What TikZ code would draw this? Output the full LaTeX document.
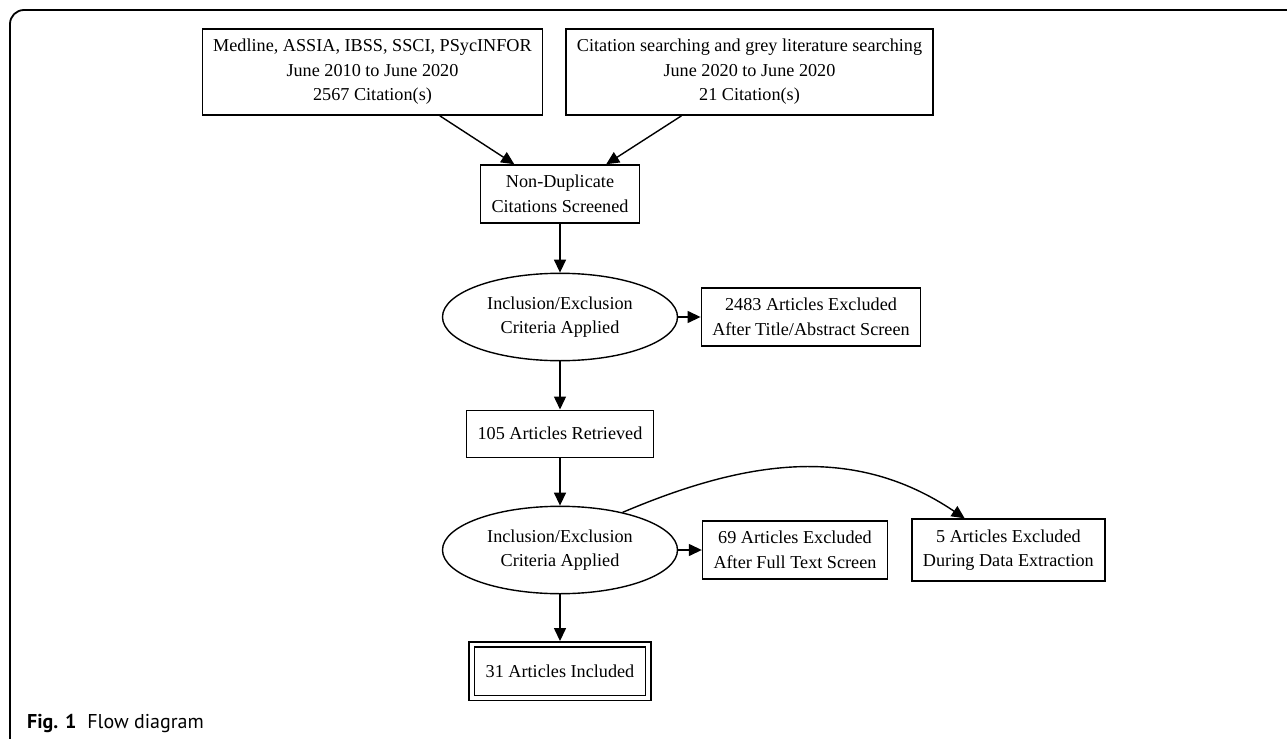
\documentclass[tikz,border=0pt]{standalone}
\usepackage{fontspec}
\setmainfont{Liberation Serif}
\setsansfont{PT Sans}
\usetikzlibrary{shapes.geometric,arrows.meta}

\begin{document}
\begin{tikzpicture}[x=.5pt,y=-.5pt,
        every node/.style={font=\fontsize{9.1}{12.25}\selectfont, align=center},
        box/.style={draw, line width=.7pt, inner xsep=5.5pt, inner ysep=5.2pt, minimum height=23.5pt},
        crit/.style={draw, ellipse, line width=.7pt, minimum width=117.5pt, minimum height=43.7pt, inner sep=0pt},
        final/.style={box, double, double distance=1.9pt, inner xsep=7pt, minimum height=26.75pt, outer sep=1.7pt},
        arr/.style={-{Triangle[length=6.5pt,width=6pt]}, line width=.7pt}]
        \useasboundingbox (0,0) rectangle (1287,739);
        \draw[line width=.9pt, rounded corners=7pt] (1287,10) -- (10,10) -- (10,739);
        % sources
        \node[box] (src1) at (372.5,72) {Medline, ASSIA, IBSS, SSCI, PSycINFOR\\June 2010 to June 2020\\2567 Citation(s)};
        \node[box] (src2) at (749.5,72) {Citation searching and grey literature searching\\June 2020 to June 2020\\21 Citation(s)};
        \node[box] (nondup) at (560,194) {Non-Duplicate\\Citations Screened};
        % first screen
        \node[crit] (crit1) at (560,317) {Inclusion/Exclusion\\Criteria Applied};
        \node[box] (excl1) at (811,317) {2483 Articles Excluded\\After Title/Abstract Screen};
        \node[box] (retr) at (560,433.7) {105 Articles Retrieved};
        % second screen
        \node[crit] (crit2) at (560,550) {Inclusion/Exclusion\\Criteria Applied};
        \node[box] (excl2) at (795,550) {69 Articles Excluded\\After Full Text Screen};
        \node[box] (excl3) at (1008.4,550) {5 Articles Excluded\\During Data Extraction};
        \node[final] (incl) at (560,671.2) {31 Articles Included};
        \draw[arr] (src1) -- (nondup);
        \draw[arr] (src2) -- (nondup);
        \draw[arr] (nondup) -- (crit1);
        \draw[arr] (crit1) -- (excl1);
        \draw[arr] (crit1) -- (retr);
        \draw[arr] (retr) -- (crit2);
        \draw[arr] (crit2) -- (excl2);
        \draw[arr] (crit2.31) to[out=23,in=146] ([xshift=-21.85pt]excl3.north);
        \draw[arr] (crit2) -- (incl);
        \node[anchor=base west, inner sep=0pt, font=\sffamily\fontsize{10}{12}\selectfont] (cap) at (26.7,728.3) {\textbf{Fig. 1}\hspace{5.5pt}Flow diagram};
\end{tikzpicture}
\end{document}
